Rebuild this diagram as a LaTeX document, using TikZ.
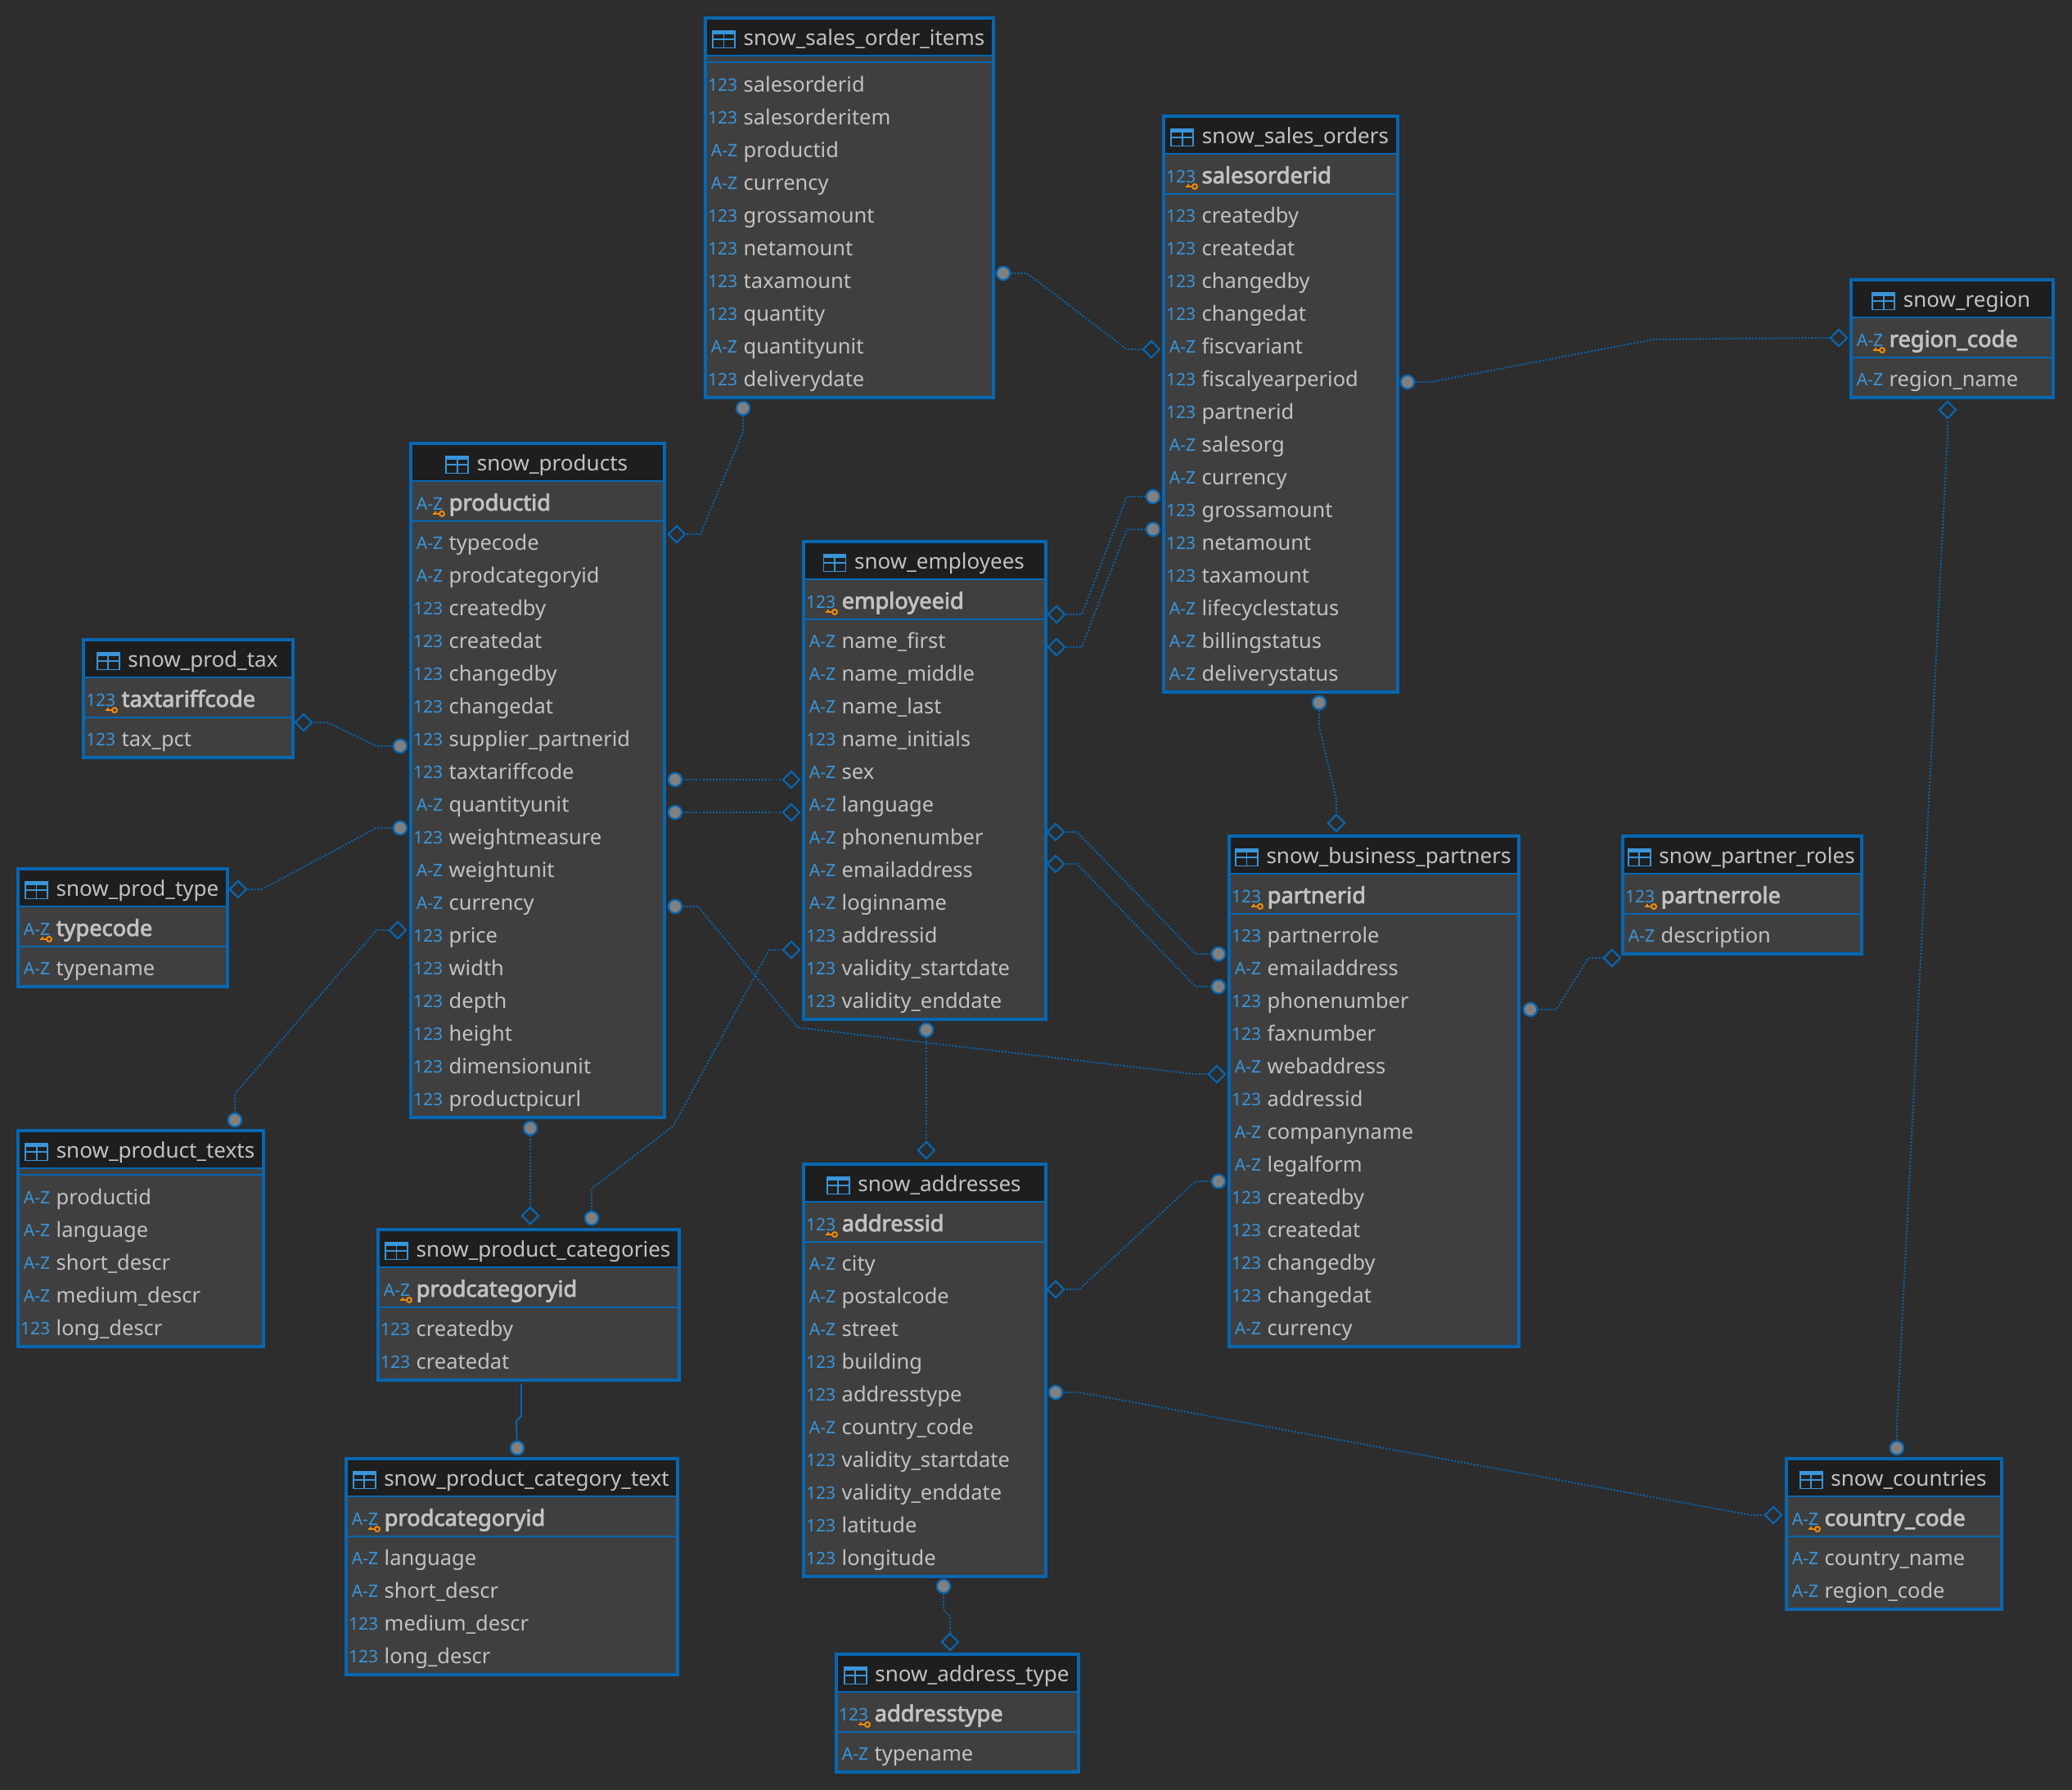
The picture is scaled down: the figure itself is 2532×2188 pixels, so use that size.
\documentclass[tikz,border=0pt]{standalone}
\usepackage{fontspec}
\setmainfont{Noto Sans}[AutoFakeBold=3]
\usetikzlibrary{positioning, shapes.geometric}

\definecolor{canvasbg}{HTML}{2D2D2D}
\definecolor{bodybg}{HTML}{3F3F3F}
\definecolor{headbg}{HTML}{1E1E1E}
\definecolor{erblue}{HTML}{0767B2}
\definecolor{iconblue}{HTML}{3A94D8}
\definecolor{keyorange}{HTML}{F28C0C}
\definecolor{labelgray}{HTML}{C2C2C2}

\newcommand{\tablecols}[4]{
    \foreach \coltype/\colname [count=\i] in {#4} {
        \node[typetext] (#1-t\i) at ({#2+42},{#3-1+40*(\i-1)}) {\coltype};
        \node[coltext] (#1-c\i) at ({#2+48},{#3+40*(\i-1)}) {\colname};
    }
}
\newcommand{\tablehead}[6]{
    \pgfmathsetmacro{\boxw}{#4-#2-4}
    \pgfmathsetmacro{\boxh}{#5-#3-4}
    \node[tablebox, minimum width=\boxw*0.01cm, minimum height=\boxh*0.01cm] (#1) at ({#2+2},{#3+2}) {};
    \fill[headbg] ({#2+4},{#3+4}) rectangle ({#4-4},{#3+47});
    \node[titletext] (#1-title) at ({(#2+#4)/2+18},{#3+28}) {#6};
    \node[tableicon, left=0.09cm of #1-title] (#1-icon) {};
    \draw[tablerule] ({#2+4},{#3+48}) -- ({#4-4},{#3+48});
}
% id, left, top, right, title, key type, key name, number of columns, columns
\newcommand{\pktable}[9]{
    \pgfmathsetmacro{\boxb}{#3+108+40*#8}
    \tablehead{#1}{#2}{#3}{#4}{\boxb}{#5}
    \draw[tablerule] ({#2+4},{#3+97}) -- ({#4-4},{#3+97});
    \node[typetext] (#1-kt) at ({#2+42},{#3+76}) {#6};
    \node[keytext] (#1-k) at ({#2+48},{#3+77}) {#7};
    \draw[keystroke] ({#2+40},{#3+88}) circle (0.03cm);
    \draw[keystroke] ({#2+29},{#3+88}) -- ({#2+37},{#3+88}) ({#2+32},{#3+88}) -- ({#2+32},{#3+85});
    \tablecols{#1}{#2}{#3+125}{#9}
}
% id, left, top, right, title, number of columns, columns
\newcommand{\plaintable}[7]{
    \pgfmathsetmacro{\boxb}{#3+68+40*#6}
    \tablehead{#1}{#2}{#3}{#4}{\boxb}{#5}
    \draw[tablerule] ({#2+4},{#3+56}) -- ({#4-4},{#3+56});
    \tablecols{#1}{#2}{#3+85}{#7}
}

\begin{document}
\begin{tikzpicture}[x=0.01cm, y=-0.01cm,
        tablebox/.style={rectangle, draw=erblue, fill=bodybg, line width=1.14pt, anchor=north west, inner sep=0pt, outer sep=0pt},
        tablerule/.style={draw=erblue, line width=0.57pt},
        tableicon/.style={rectangle, draw=iconblue, line width=0.5pt, inner sep=0pt, minimum width=0.27cm, minimum height=0.21cm,
            path picture={
                \fill[iconblue] (path picture bounding box.north west) rectangle ([yshift=-0.045cm]path picture bounding box.north east);
                \draw[iconblue, line width=0.5pt] (path picture bounding box.north) -- (path picture bounding box.south)
                    (path picture bounding box.west) -- (path picture bounding box.east);
            }},
        titletext/.style={font=\fontsize{7.4}{9}\selectfont, text=labelgray, inner sep=0pt, text height=5.6pt, text depth=1.6pt},
        coltext/.style={font=\fontsize{7.25}{9}\selectfont, text=labelgray, anchor=west, inner sep=0pt, text height=5.6pt, text depth=1.6pt},
        keytext/.style={coltext, font=\fontsize{7.75}{9}\selectfont\bfseries},
        typetext/.style={font=\fontsize{6}{7}\selectfont, text=iconblue, anchor=east, inner sep=0pt, text height=4.4pt, text depth=0pt},
        keystroke/.style={draw=keyorange, line width=0.55pt},
        fkdot/.style={circle, draw=erblue, fill=gray, line width=0.6pt, inner sep=0pt, minimum size=0.165cm},
        fkdiamond/.style={diamond, aspect=1, draw=erblue, line width=0.6pt, inner sep=0pt, minimum size=0.21cm},
        relline/.style={draw=erblue, line width=0.55pt, dash pattern=on 0.55pt off 0.6pt},
        relsolid/.style={draw=erblue, line width=0.55pt}]
    \useasboundingbox (0,0) rectangle (2532,2188);
    \fill[canvasbg] (0,0) rectangle (2532,2188);

    % tables
    \plaintable{items}{860}{20}{1216}{snow\_sales\_order\_items}{10}{123/salesorderid, 123/salesorderitem, A-Z/productid, A-Z/currency, 123/grossamount, 123/netamount, 123/taxamount, 123/quantity, A-Z/quantityunit, 123/deliverydate}
    \pktable{orders}{1420}{140}{1710}{snow\_sales\_orders}{123}{salesorderid}{15}{123/createdby, 123/createdat, 123/changedby, 123/changedat, A-Z/fiscvariant, 123/fiscalyearperiod, 123/partnerid, A-Z/salesorg, A-Z/currency, 123/grossamount, 123/netamount, 123/taxamount, A-Z/lifecyclestatus, A-Z/billingstatus, A-Z/deliverystatus}
    \pktable{region}{2260}{340}{2511}{snow\_region}{A-Z}{region\_code}{1}{A-Z/region\_name}
    \pktable{products}{500}{540}{814}{snow\_products}{A-Z}{productid}{18}{A-Z/typecode, A-Z/prodcategoryid, 123/createdby, 123/createdat, 123/changedby, 123/changedat, 123/supplier\_partnerid, 123/taxtariffcode, A-Z/quantityunit, 123/weightmeasure, A-Z/weightunit, A-Z/currency, 123/price, 123/width, 123/depth, 123/height, 123/dimensionunit, 123/productpicurl}
    \pktable{employees}{980}{660}{1280}{snow\_employees}{123}{employeeid}{12}{A-Z/name\_first, A-Z/name\_middle, A-Z/name\_last, 123/name\_initials, A-Z/sex, A-Z/language, A-Z/phonenumber, A-Z/emailaddress, A-Z/loginname, 123/addressid, 123/validity\_startdate, 123/validity\_enddate}
    \pktable{partners}{1500}{1020}{1858}{snow\_business\_partners}{123}{partnerid}{13}{123/partnerrole, A-Z/emailaddress, 123/phonenumber, 123/faxnumber, A-Z/webaddress, 123/addressid, A-Z/companyname, A-Z/legalform, 123/createdby, 123/createdat, 123/changedby, 123/changedat, A-Z/currency}
    \pktable{roles}{1981}{1020}{2277}{snow\_partner\_roles}{123}{partnerrole}{1}{A-Z/description}
    \pktable{tax}{100}{780}{360}{snow\_prod\_tax}{123}{taxtariffcode}{1}{123/tax\_pct}
    \pktable{prodtype}{20}{1060}{280}{snow\_prod\_type}{A-Z}{typecode}{1}{A-Z/typename}
    \plaintable{texts}{20}{1380}{324}{snow\_product\_texts}{5}{A-Z/productid, A-Z/language, A-Z/short\_descr, A-Z/medium\_descr, 123/long\_descr}
    \pktable{categories}{460}{1501}{832}{snow\_product\_categories}{A-Z}{prodcategoryid}{2}{123/createdby, 123/createdat}
    \pktable{cattext}{421}{1781}{830}{snow\_product\_category\_text}{A-Z}{prodcategoryid}{4}{A-Z/language, A-Z/short\_descr, 123/medium\_descr, 123/long\_descr}
    \pktable{addresses}{980}{1421}{1280}{snow\_addresses}{123}{addressid}{10}{A-Z/city, A-Z/postalcode, A-Z/street, 123/building, 123/addresstype, A-Z/country\_code, 123/validity\_startdate, 123/validity\_enddate, 123/latitude, 123/longitude}
    \pktable{addrtype}{1020}{2020}{1320}{snow\_address\_type}{123}{addresstype}{1}{A-Z/typename}
    \pktable{countries}{2181}{1781}{2448}{snow\_countries}{A-Z}{country\_code}{2}{A-Z/country\_name, A-Z/region\_code}

    % relations
    \node[fkdot] (itemsdot) at (1226,334) {};
    \node[fkdiamond] (itemsdia) at (1407,427) {};
    \draw[relline] (itemsdot) -- (1255,334) -- (1377,427) -- (itemsdia);

    \node[fkdot] (proddot) at (908,499) {};
    \node[fkdiamond] (proddia) at (827,653) {};
    \draw[relline] (proddot) -- (908,528) -- (856,653) -- (proddia);

    \node[fkdot] (grossdot) at (1409,607) {};
    \node[fkdiamond] (grossdia) at (1291,751) {};
    \draw[relline] (grossdot) -- (1377,607) -- (1322,751) -- (grossdia);

    \node[fkdot] (netdot) at (1409,647) {};
    \node[fkdiamond] (netdia) at (1291,791) {};
    \draw[relline] (netdot) -- (1377,647) -- (1322,791) -- (netdia);

    \node[fkdot] (regiondot) at (1720,467) {};
    \node[fkdiamond] (regiondia) at (2247,413) {};
    \draw[relline] (regiondot) -- (1748,467) -- (2020,415) -- (2217,413) -- (regiondia);

    \node[fkdot] (countrydot) at (2318,1770) {};
    \node[fkdiamond] (countrydia) at (2380,501) {};
    \draw[relline] (countrydot) -- (2318,1740) -- (2380,530) -- (countrydia);

    \node[fkdot] (ordersdot) at (1612,859) {};
    \node[fkdiamond] (ordersdia) at (1633,1006) {};
    \draw[relline] (ordersdot) -- (1612,888) -- (1633,977) -- (ordersdia);

    \node[fkdot] (rolesdot) at (1870,1234) {};
    \node[fkdiamond] (rolesdia) at (1970,1171) {};
    \draw[relline] (rolesdot) -- (1902,1234) -- (1941,1171) -- (rolesdia);

    \node[fkdot] (phonedot) at (1489,1166) {};
    \node[fkdiamond] (phonedia) at (1290,1017) {};
    \draw[relline] (phonedot) -- (1461,1166) -- (1316,1017) -- (phonedia);

    \node[fkdot] (maildot) at (1489,1206) {};
    \node[fkdiamond] (maildia) at (1290,1056) {};
    \draw[relline] (maildot) -- (1461,1206) -- (1316,1056) -- (maildia);

    \node[fkdot] (createdot) at (825,953) {};
    \node[fkdiamond] (createdia) at (967,953) {};
    \draw[relline] (createdot) -- (createdia);

    \node[fkdot] (changedot) at (825,993) {};
    \node[fkdiamond] (changedia) at (967,993) {};
    \draw[relline] (changedot) -- (changedia);

    \node[fkdot] (supplierdot) at (825,1108) {};
    \node[fkdiamond] (supplierdia) at (1487,1313) {};
    \draw[relline] (supplierdot) -- (853,1108) -- (975,1256) -- (1460,1313) -- (supplierdia);

    \node[fkdot] (taxdot) at (489,912) {};
    \node[fkdiamond] (taxdia) at (371,883) {};
    \draw[relline] (taxdot) -- (460,912) -- (400,883) -- (taxdia);

    \node[fkdot] (typedot) at (489,1012) {};
    \node[fkdiamond] (typedia) at (291,1087) {};
    \draw[relline] (typedot) -- (460,1012) -- (320,1087) -- (typedia);

    \node[fkdot] (textsdot) at (287,1369) {};
    \node[fkdiamond] (textsdia) at (486,1137) {};
    \draw[relline] (textsdot) -- (287,1337) -- (460,1137) -- (textsdia);

    \node[fkdot] (catdot) at (648,1379) {};
    \node[fkdiamond] (catdia) at (648,1486) {};
    \draw[relline] (catdot) -- (catdia);

    \node[fkdot] (empcatdot) at (723,1489) {};
    \node[fkdiamond] (empcatdia) at (967,1161) {};
    \draw[relline] (empcatdot) -- (723,1453) -- (823,1376) -- (940,1161) -- (empcatdia);

    \coordinate (cattop) at (637,1691);
    \node[fkdot] (cattextdot) at (632,1770) {};
    \draw[relsolid] (cattop) -- (637,1731) -- (631,1737) -- (cattextdot);

    \node[fkdot] (empdot) at (1132,1259) {};
    \node[fkdiamond] (empdia) at (1132,1406) {};
    \draw[relline] (empdot) -- (empdia);

    \node[fkdot] (addrdot) at (1489,1444) {};
    \node[fkdiamond] (addrdia) at (1290,1576) {};
    \draw[relline] (addrdot) -- (1461,1444) -- (1319,1576) -- (addrdia);

    \node[fkdot] (ctrydot) at (1290,1702) {};
    \node[fkdiamond] (ctrydia) at (2167,1852) {};
    \draw[relline] (ctrydot) -- (1319,1702) -- (2140,1852) -- (ctrydia);

    \node[fkdot] (typdot) at (1153,1939) {};
    \node[fkdiamond] (typdia) at (1161,2007) {};
    \draw[relline] (typdot) -- (1153,1968) -- (1161,1976) -- (typdia);
\end{tikzpicture}
\end{document}
